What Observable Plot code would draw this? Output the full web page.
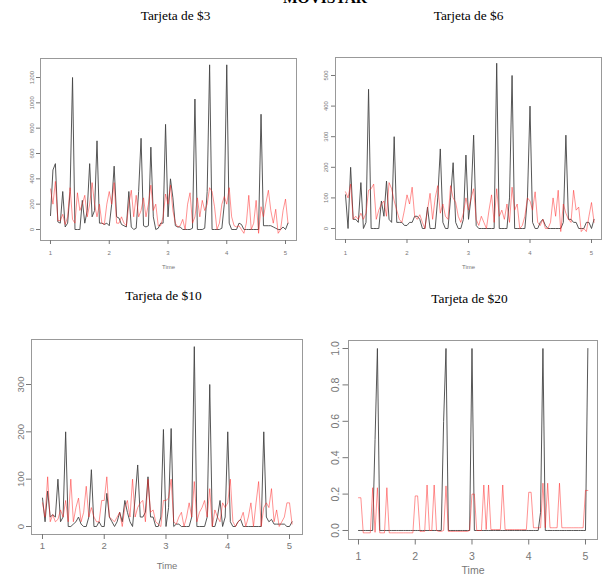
<!DOCTYPE html>
<html><head><meta charset="utf-8">
<script src="https://cdn.jsdelivr.net/npm/d3@7"></script>
<script src="https://cdn.jsdelivr.net/npm/@observablehq/plot@0.6"></script>
<style>
html,body{margin:0;padding:0;background:#fff;}
#wrap{position:relative;width:603px;height:574px;overflow:hidden;background:#fff;}
#main{position:absolute;left:325px;top:-10.5px;transform:translateX(-50%);font-family:"Liberation Serif","Times New Roman",serif;font-weight:bold;font-size:15.5px;line-height:15.5px;white-space:nowrap;color:#000;z-index:2;}
.ttl{font-family:"Liberation Serif","Times New Roman",serif !important;font-weight:normal !important;}
</style></head><body>
<div id="wrap"><div id="main">MOVISTAR</div></div>
<script>
// time index: series start at 1, 24 observations per unit
const freq = 24;
const xTicks = [1, 2, 3, 4, 5];

// Tarjeta de $3
const black3 = [110,470,520,60,50,300,20,50,300,1200,
  0,0,0,230,50,150,520,100,150,700,
  50,50,40,50,30,200,500,100,90,40,
  30,20,300,20,0,10,300,720,30,20,
  30,650,100,0,10,50,50,830,100,400,
  250,30,20,20,0,0,0,0,10,1030,
  0,0,0,10,300,1300,0,0,0,0,
  10,200,1300,50,0,0,0,50,40,0,
  0,0,0,0,0,0,910,30,30,30,
  30,20,10,0,0,20,0,50];
const red3 = [320,200,380,70,70,120,40,100,330,80,
  50,290,150,200,270,100,200,370,200,100,
  200,50,40,200,300,200,370,50,50,100,
  50,30,200,310,100,270,100,150,250,100,
  200,350,150,200,30,30,100,280,200,350,
  150,50,20,30,80,0,200,290,50,100,
  250,100,230,150,200,330,300,180,0,50,
  200,260,200,330,100,30,20,30,0,-30,
  50,270,0,50,230,-30,180,100,210,310,
  150,50,160,-30,0,150,240,50];
const yTicks3 = [0,200,400,600,800,1000,1200];

// Tarjeta de $6
const black6 = [110,0,200,30,30,20,150,0,20,455,
  0,0,0,0,90,40,155,30,20,300,
  20,20,20,10,10,20,20,40,40,30,
  0,0,70,0,0,0,100,260,20,0,
  0,100,215,20,0,0,30,240,30,100,
  305,10,0,0,0,0,0,0,0,540,
  0,0,0,0,100,500,0,0,0,0,
  0,100,400,20,0,0,20,30,10,0,
  0,0,0,0,0,20,305,30,30,20,
  20,0,0,0,20,20,0,30];
const red6 = [120,100,145,30,40,30,50,30,50,125,
  130,145,30,60,80,90,40,150,130,90,
  60,30,20,60,110,80,135,40,30,45,
  20,0,60,115,30,100,140,50,80,40,
  30,140,100,85,40,20,50,100,60,100,
  130,30,10,40,20,0,60,110,20,130,
  40,60,30,80,20,135,60,80,0,10,
  40,100,90,60,120,20,10,30,0,0,
  20,100,40,125,-10,80,50,30,20,125,
  60,70,-10,0,-10,40,85,20];
const yTicks6 = [0,100,200,300,400,500];

// Tarjeta de $10
const black10 = [60,10,75,20,25,20,100,10,20,200,
  0,0,5,10,20,5,0,0,20,120,
  0,0,10,0,0,70,20,10,0,10,
  30,10,55,30,10,0,60,130,20,20,
  30,105,20,20,0,0,20,205,0,40,
  207,0,5,5,0,0,0,0,20,380,
  0,0,0,0,20,300,0,0,20,55,
  0,20,200,10,0,0,10,15,0,0,
  0,0,0,0,0,0,200,20,10,15,
  5,5,5,5,5,0,0,10];
const red10 = [50,20,105,10,25,10,15,35,20,55,
  10,100,10,40,60,10,30,85,20,40,
  20,10,10,55,55,105,20,15,10,20,
  30,0,40,55,20,100,20,40,50,55,
  10,100,30,35,10,5,0,55,55,60,
  100,10,5,20,30,0,20,50,20,95,
  10,30,40,55,20,80,0,35,20,10,
  50,40,50,100,10,0,10,15,30,0,
  20,50,0,50,95,0,40,50,40,80,
  10,35,0,10,20,50,50,5];
const yTicks10 = [0,100,200,300];

// Tarjeta de $20
const black20 = [0,0,0,0,0,0,0,0.5,1,0,
  0,0,0,0,0,0,0,0,0,0,
  0,0,0,0,0,0,0,0,0,0,
  0,0,0,0,0,0,0.6,1,0,0,
  0,0,0,0,0,0,0,0,1,0,
  0,0,0,0,0,0,0,0,0,0,
  0,0,0,0,0,0,0,0,0,0,
  0,0,0,0,0,0,0,0.1,1,0,
  0,0,0,0,0,0,0,0,0,0,
  0,0,0,0,0,0,0,1];
const red20 = [0.18,0.18,-0.013,-0.013,-0.013,-0.013,0.235,-0.01,0.235,-0.013,
  -0.013,-0.013,0.235,-0.013,-0.013,-0.013,-0.013,-0.013,-0.013,-0.013,
  -0.013,-0.013,-0.013,-0.013,0.19,0.19,-0.005,-0.005,-0.005,0.25,
  0,0,0.25,0,-0.005,-0.005,0,0.245,-0.005,-0.005,
  -0.005,-0.005,-0.005,-0.005,-0.005,-0.005,-0.005,0,0.2,0.2,
  0,0,0,0.25,0.005,0.25,0.005,0.005,0.005,0.005,
  0.005,0.25,0.005,0.005,0.005,0.005,0.005,0.005,0.005,0.005,
  0.005,0.005,0.21,0.21,0.015,0.015,0.015,0.015,0.26,0.015,
  0.26,0.015,0.015,0.015,0.015,0.26,0.015,0.015,0.015,0.015,
  0.015,0.015,0.015,0.015,0.015,0.015,0.22,0.22];
const yTicks20 = [0,0.2,0.4,0.6,0.8,1.0];

const titles = ["Tarjeta de $3","Tarjeta de $6","Tarjeta de $10","Tarjeta de $20"];

function rows(vals){ return vals.map((v,i)=>({t: 1 + i/freq, v})); }

function panel(o){
  const svg = Plot.plot({
    width:o.W, height:o.H,
    marginLeft:o.m[0], marginRight:o.m[1], marginTop:o.m[2], marginBottom:o.m[3],
    x:{domain:o.xd, axis:null},
    y:{domain:o.yd, axis:null},
    style:{background:"white", fontFamily:"'Liberation Sans', Arial, sans-serif", overflow:"visible"},
    marks:[
      Plot.frame({stroke:"#999", strokeWidth:1}),
      Plot.axisX({ticks:xTicks, tickSize:o.tick, tickPadding:o.xPad, fontSize:o.fs, color:"#777", tickFormat:d=>String(d), label:null}),
      Plot.axisY({ticks:o.yTicks, tickSize:o.tick, tickPadding:o.yPad, tickRotate:-90, fontSize:o.fs, color:"#777", tickFormat:o.yFmt, label:null}),
      Plot.lineY(rows(o.black), {x:"t", y:"v", stroke:"#444", strokeWidth:0.9}),
      Plot.lineY(rows(o.red), {x:"t", y:"v", stroke:"#ff2020", strokeOpacity:0.55, strokeWidth:0.9}),
      Plot.text([o.title], {frameAnchor:"top", dx:o.tdx, dy:o.tdy, lineAnchor:"bottom", fontFamily:"'Liberation Serif', 'Times New Roman', serif", fontWeight:"normal", fontSize:13.4, fill:"#000", className:"ttl"}),
      Plot.text(["Time"], {frameAnchor:"bottom", dy:o.timeDy, lineAnchor:"middle", fontSize:o.fs, fill:"#777"})
    ]
  });
  svg.style.position = "absolute";
  svg.style.left = o.left + "px";
  svg.style.top = o.top + "px";
  document.getElementById("wrap").appendChild(svg);
}

panel({left:0, top:0, W:300, H:280, m:[40,4,58,40], xd:[0.8298,5.187], yd:[-86.8,1350],
  yTicks:yTicks3, yFmt:d=>String(d), black:black3, red:red3, fs:6, tick:4, xPad:6, yPad:3,
  title:titles[0], tdx:7, tdy:-38.5, timeDy:27});
panel({left:300, top:0, W:303, H:280, m:[35,2,57,41], xd:[0.8374,5.1626], yd:[-35.9,558.8],
  yTicks:yTicks6, yFmt:d=>String(d), black:black6, red:red6, fs:6, tick:4, xPad:7, yPad:4,
  title:titles[1], tdx:0, tdy:-37.5, timeDy:28});
panel({left:0, top:280, W:310, H:294, m:[31,8,59,40], xd:[0.8219,5.2105], yd:[-16.9,395.1],
  yTicks:yTicks10, yFmt:d=>String(d), black:black10, red:red10, fs:9.5, tick:5, xPad:2.5, yPad:2.6,
  title:titles[2], tdx:-3.5, tdy:-40, timeDy:31});
panel({left:310, top:280, W:293, H:294, m:[38,6,60,35], xd:[0.8238,5.2115], yd:[-0.0495,1.044],
  yTicks:yTicks20, yFmt:d3.format(".1f"), black:black20, red:red20, fs:10.5, tick:5.5, xPad:7.5, yPad:3.7,
  title:titles[3], tdx:-3.5, tdy:-37.3, timeDy:31});
document.getElementById("wrap").appendChild(document.getElementById("main"));
</script>
</body></html>
